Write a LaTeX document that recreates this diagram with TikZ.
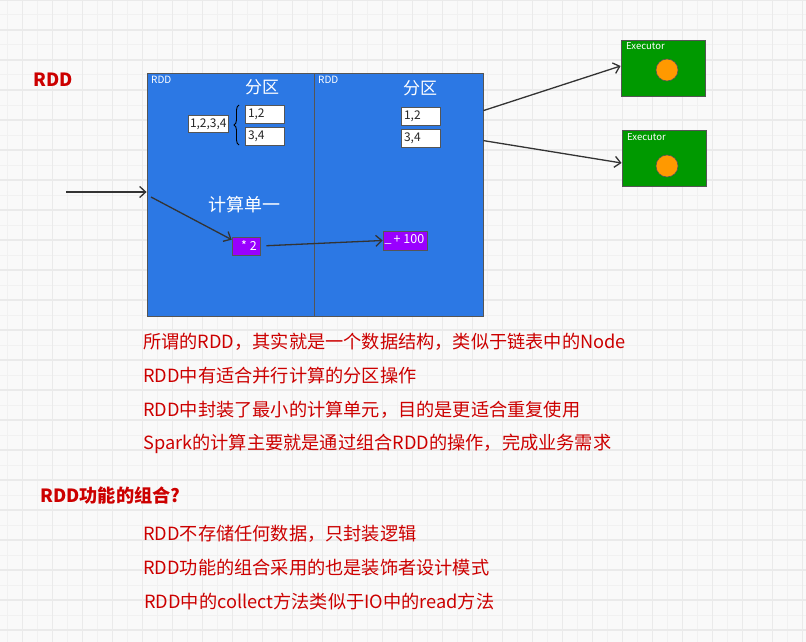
\documentclass[tikz,border=0pt]{standalone}
\usepackage{fontspec}
\setmainfont{Noto Sans CJK SC}
\usetikzlibrary{arrows.meta,decorations.pathreplacing}
\definecolor{bgc}{HTML}{F9F9F9}
\definecolor{gridminor}{HTML}{F1F1F1}
\definecolor{gridmajor}{HTML}{EAEAEA}
\definecolor{rddblue}{HTML}{2C78E4}
\definecolor{exgreen}{HTML}{009900}
\definecolor{dotorange}{HTML}{FF9900}
\definecolor{oppurple}{HTML}{9900FF}
\definecolor{txtred}{HTML}{CC0000}
\definecolor{linegray}{HTML}{333333}
\definecolor{bordergray}{HTML}{555555}
\tikzset{
  rddbox/.style={draw=bordergray, line width=0.8pt, fill=rddblue, minimum width=167pt, minimum height=243pt, inner sep=0pt},
  valbox/.style={draw=bordergray, line width=0.6pt, fill=white, inner xsep=3pt, inner ysep=0pt, text width=33pt, align=left, minimum height=18pt, font=\fontsize{12}{12}\selectfont, text=black!85},
  opbox/.style={draw=bordergray, line width=0.6pt, fill=oppurple, inner sep=0pt},
  optext/.style={text=white, inner sep=0pt, font=\fontsize{12.5}{13}\selectfont},
  exbox/.style={draw=bordergray, line width=0.8pt, fill=exgreen, minimum width=84pt, minimum height=56pt, inner sep=0pt},
  dot/.style={circle, draw=bordergray, line width=0.6pt, fill=dotorange, minimum size=22pt, inner sep=0pt},
  smalllbl/.style={text=white, inner sep=0pt, anchor=north west, font=\fontsize{10}{10}\selectfont},
  exlbl/.style={text=white, inner sep=0pt, anchor=north west, font=\fontsize{9.5}{10}\selectfont},
  biglbl/.style={text=white, inner sep=0pt, font=\fontsize{17}{18}\selectfont},
  arr/.style={draw=linegray, line width=1.3pt, -{Straight Barb[length=6pt,width=11pt]}},
  redline/.style={text=txtred, anchor=west, inner sep=0pt, font=\fontsize{18.2}{20}\selectfont},
  redtitle/.style={text=txtred, anchor=west, inner sep=0pt, font=\bfseries\fontsize{18.2}{20}\selectfont},
}
\begin{document}
\begin{tikzpicture}[x=1pt,y=-1pt]
\useasboundingbox (0,0) rectangle (806,642);
\fill[bgc] (0,0) rectangle (806,642);
\foreach \x in {7.5,37.5,...,806} \draw[gridminor, line width=1pt] (\x,0) -- (\x,642);
\foreach \y in {15,45,...,642} \draw[gridminor, line width=1pt] (0,\y) -- (806,\y);
\foreach \x in {22.5,52.5,...,806} \draw[gridmajor, line width=1.2pt] (\x,0) -- (\x,642);
\foreach \y in {0,30,...,642} \draw[gridmajor, line width=1.2pt] (0,\y) -- (806,\y);

% title
\node[redtitle] (t0) at (33,80) {RDD};

% RDD boxes
\node[rddbox] (L) at (230.5,194.5) {};
\node[rddbox, minimum width=169pt] (R) at (398.5,194.5) {};
\node[smalllbl] (Llbl) at (151,76) {RDD};
\node[smalllbl] (Rlbl) at (318,76) {RDD};
\node[biglbl] (Lpart) at (262,87) {分区};
\node[biglbl] (Rpart) at (420,88) {分区};

% partitions
\node[valbox, inner xsep=2pt, text width=36pt, minimum height=17pt] (all) at (208,124) {1,2,3,4};
\coordinate (brb) at (239,145);
\coordinate (brt) at (239,105);
\draw[black, line width=0.9pt, decorate, decoration={brace, amplitude=5pt}] (brb) -- (brt);
\node[valbox] (p1) at (264.5,114) {1,2};
\node[valbox] (p2) at (264.5,136) {3,4};
\node[valbox] (q1) at (420.5,116) {1,2};
\node[valbox] (q2) at (420.5,138.5) {3,4};

% compute unit
\node[biglbl, font=\fontsize{18}{19}\selectfont] (cu) at (244,205) {计算单一};
\node[opbox, minimum width=28pt, minimum height=18pt] (mul) at (246,246) {};
\node[optext] (mult) at (249,245.5) {* 2};
\node[opbox, minimum width=44pt, minimum height=19pt] (add) at (405,240.5) {};
\node[optext] (addu) at (388,243) {\_};
\node[optext] (addt) at (409,239.5) {+ 100};

\coordinate (in) at (66,192);
\draw[arr] (in) -- (in -| L.west);
\coordinate (s1) at (151,197);
\draw[arr] (s1) -- ([yshift=-3pt]mul.north west);
\draw[arr, shorten <=6pt] (mul.east) -- (add.west);

% executors
\node[exbox] (E1) at (663,68) {};
\node[exbox] (E2) at (664,158) {};
\node[exlbl] (E1l) at (626,42.5) {Executor};
\node[exlbl] (E2l) at (627,133.5) {Executor};
\node[dot] (d1) at (667,70) {};
\node[dot] (d2) at (667,166) {};
\draw[arr] ([yshift=-38pt]R.north east) -- ([yshift=2pt]E1.west);
\draw[arr] ([yshift=-68pt]R.north east) -- ([yshift=-5pt]E2.west);

% notes
\node[redline] (n1) at (143,342) {所谓的RDD，其实就是一个数据结构，类似于链表中的Node};
\node[redline] (n2) at (143,376) {RDD中有适合并行计算的分区操作};
\node[redline] (n3) at (143,410) {RDD中封装了最小的计算单元，目的是更适合重复使用};
\node[redline] (n4) at (143,444) {Spark的计算主要就是通过组合RDD的操作，完成业务需求};
\node[redtitle] (t1) at (40,496) {RDD功能的组合?};
\node[redline] (n5) at (143,534) {RDD不存储任何数据，只封装逻辑};
\node[redline] (n6) at (143,568) {RDD功能的组合采用的也是装饰者设计模式};
\node[redline] (n7) at (144,602) {RDD中的collect方法类似于IO中的read方法};
\end{tikzpicture}
\end{document}
